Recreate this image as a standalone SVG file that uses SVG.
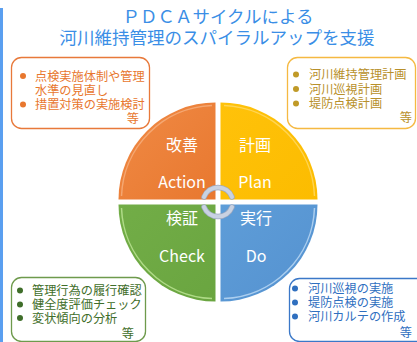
<svg xmlns="http://www.w3.org/2000/svg" width="417" height="342" viewBox="0 0 417 342">
<style>
text{font-family:"Noto Sans CJK JP","Noto Sans",sans-serif}
.title{font-size:17.5px;fill:#3a8ee6;text-anchor:middle}
.q{font-size:16px;fill:#ffffff;text-anchor:middle}
.b{font-size:12.2px}
.e{text-anchor:end}
.box{fill:#ffffff;stroke-width:1.3}
.ring{fill:none;stroke:#c9d2e2;stroke-width:4;stroke-linecap:round}
.ringo{fill:none;stroke:#9eaac0;stroke-width:5.5;stroke-linecap:round}
</style>
<defs>
<linearGradient id="gO" x1="0" y1="0" x2="1" y2="1"><stop offset="0" stop-color="#f08a45"/><stop offset="1" stop-color="#e8782f"/></linearGradient>
<linearGradient id="gY" x1="0" y1="0" x2="1" y2="1"><stop offset="0" stop-color="#ffc20a"/><stop offset="1" stop-color="#fcbc00"/></linearGradient>
<linearGradient id="gG" x1="0" y1="0" x2="1" y2="1"><stop offset="0" stop-color="#72ad47"/><stop offset="1" stop-color="#6aa540"/></linearGradient>
<linearGradient id="gB" x1="0" y1="0" x2="1" y2="1"><stop offset="0" stop-color="#5e9dd8"/><stop offset="1" stop-color="#5592d0"/></linearGradient>
</defs>
<rect x="0" y="8" width="3" height="334" fill="#5a9ff0"/>
<g id="title">
<text class="title" x="218" y="23">ＰＤＣＡサイクルによる</text>
<text class="title" x="217" y="44">河川維持管理のスパイラルアップを支援</text>
</g>
<g id="action">
<path d="M215.5,199.5 L118.5,199.5 A97,97 0 0 1 215.5,102.5 Z" fill="url(#gO)"/>
<path d="M121.5,196 A94,94 0 0 1 212,105.5" fill="none" stroke="#f6b080" stroke-width="1.5" opacity="0.8"/>
<text class="q" x="182" y="151">改善</text>
<text class="q" x="182" y="188">Action</text>
</g>
<g id="plan">
<path d="M220.5,199.5 L220.5,102.5 A97,97 0 0 1 317.5,199.5 Z" fill="url(#gY)"/>
<path d="M224,105.5 A94,94 0 0 1 314.5,196" fill="none" stroke="#ffd966" stroke-width="1.5" opacity="0.8"/>
<text class="q" x="255" y="151">計画</text>
<text class="q" x="255" y="188">Plan</text>
</g>
<g id="check">
<path d="M215.5,204.5 L215.5,301.5 A97,97 0 0 1 118.5,204.5 Z" fill="url(#gG)"/>
<path d="M121.5,208 A94,94 0 0 0 212,298.5" fill="none" stroke="#b6e08e" stroke-width="1.5" opacity="0.9"/>
<text class="q" x="182" y="224">検証</text>
<text class="q" x="182" y="262">Check</text>
</g>
<g id="do">
<path d="M220.5,204.5 L317.5,204.5 A97,97 0 0 1 220.5,301.5 Z" fill="url(#gB)"/>
<path d="M314.5,208 A94,94 0 0 1 224,298.5" fill="none" stroke="#b4d4f2" stroke-width="1.5" opacity="0.9"/>
<text class="q" x="256" y="224">実行</text>
<text class="q" x="256" y="262">Do</text>
</g>
<g id="connectors">
<path class="ringo" d="M204,197 A15,15 0 0 1 232,197"/>
<path class="ringo" d="M204,207 A15,15 0 0 0 232,207"/>
<path class="ring" d="M204,197 A15,15 0 0 1 232,197"/>
<path class="ring" d="M204,207 A15,15 0 0 0 232,207"/>
</g>
<g id="box-action">
<rect class="box" x="11.5" y="57.5" width="138" height="71" rx="10" stroke="#e8793a"/>
<g fill="#e8772e">
<circle cx="23" cy="76" r="3"/>
<circle cx="23" cy="104.5" r="3"/>
<text class="b" x="35" y="80.5">点検実施体制や管理</text>
<text class="b" x="35" y="95">水準の見直し</text>
<text class="b" x="35" y="109">措置対策の実施検討</text>
<text class="b e" x="139" y="123">等</text>
</g>
</g>
<g id="box-plan">
<rect class="box" x="287.5" y="57.5" width="128" height="71" rx="10" stroke="#f5b942"/>
<g fill="#b8902a">
<circle cx="296" cy="74.5" r="3" fill="#c09a28"/>
<circle cx="296" cy="89" r="3" fill="#c09a28"/>
<circle cx="296" cy="103.5" r="3" fill="#c09a28"/>
<text class="b" x="309" y="79">河川維持管理計画</text>
<text class="b" x="309" y="93.5">河川巡視計画</text>
<text class="b" x="309" y="108">堤防点検計画</text>
<text class="b e" x="412" y="122">等</text>
</g>
</g>
<g id="box-check">
<rect class="box" x="11.5" y="277.5" width="134" height="64" rx="10" stroke="#6e9a4c"/>
<g fill="#3f6e2a">
<circle cx="20" cy="290.5" r="3"/>
<circle cx="20" cy="304.5" r="3"/>
<circle cx="20" cy="318" r="3"/>
<text class="b" x="32" y="295">管理行為の履行確認</text>
<text class="b" x="32" y="309">健全度評価チェック</text>
<text class="b" x="32" y="322.5">変状傾向の分析</text>
<text class="b e" x="134" y="338">等</text>
</g>
</g>
<g id="box-do">
<rect class="box" x="289.5" y="278.5" width="140" height="63" rx="10" stroke="#3b78c8"/>
<g fill="#2f6fbf">
<circle cx="295" cy="288.5" r="3"/>
<circle cx="295" cy="302.5" r="3"/>
<circle cx="295" cy="316.5" r="3"/>
<text class="b" x="308" y="293">河川巡視の実施</text>
<text class="b" x="308" y="307">堤防点検の実施</text>
<text class="b" x="308" y="321">河川カルテの作成</text>
<text class="b e" x="412" y="337">等</text>
</g>
</g>
</svg>
